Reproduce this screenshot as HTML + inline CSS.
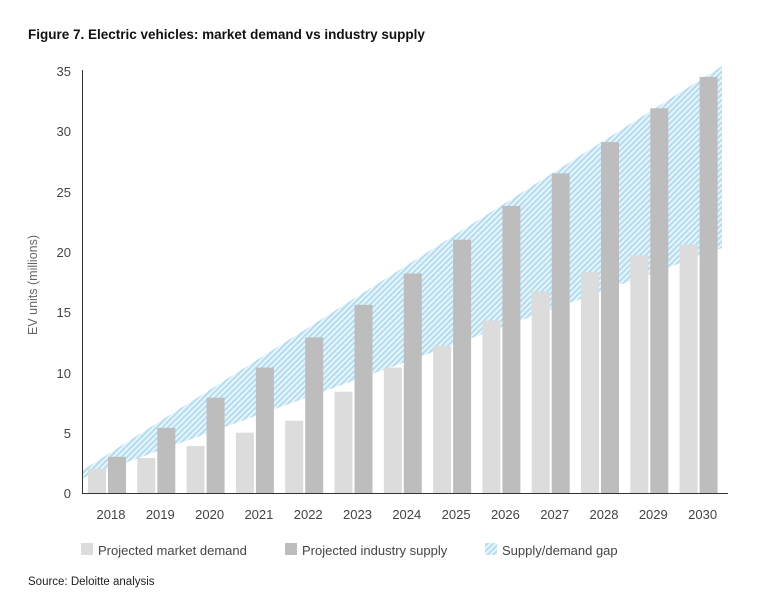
<!DOCTYPE html>
<html><head><meta charset="utf-8"><style>
body{margin:0;background:#fff;font-family:"Liberation Sans",sans-serif;}
</style></head><body>
<svg width="764" height="610" xmlns="http://www.w3.org/2000/svg" font-family="Liberation Sans, sans-serif">
<defs>
<pattern id="h" patternUnits="userSpaceOnUse" width="4" height="4" patternTransform="rotate(45)">
<rect width="4" height="4" fill="#e8f5fb"/><rect width="2" height="4" fill="#b3dcf0"/>
</pattern>
</defs>
<text x="28" y="39" font-size="13.5" font-weight="bold" fill="#111">Figure 7. Electric vehicles: market demand vs industry supply</text>
<polygon points="83,470 722,66 722,248 83,478" fill="url(#h)"/>
<g id="bars"></g>
<line x1="82.5" y1="70" x2="82.5" y2="493.5" stroke="#333" stroke-width="1"/>
<line x1="82" y1="493.5" x2="728" y2="493.5" stroke="#333" stroke-width="1"/>
<g font-size="13" fill="#444" text-anchor="end">
<text x="71" y="498">0</text><text x="71" y="438">5</text><text x="71" y="378">10</text><text x="71" y="317">15</text><text x="71" y="257">20</text><text x="71" y="197">25</text><text x="71" y="136">30</text><text x="71" y="76">35</text>
</g>
<text transform="translate(37,285) rotate(-90)" font-size="12.5" fill="#666" text-anchor="middle">EV units (millions)</text>
<g id="xl" font-size="13" fill="#444" text-anchor="middle"></g>
<rect x="81" y="543" width="12" height="12" fill="#dcdcdc"/>
<text x="98" y="555" font-size="13" fill="#444">Projected market demand</text>
<rect x="285" y="543" width="12" height="12" fill="#bdbdbd"/>
<text x="302" y="555" font-size="13" fill="#444">Projected industry supply</text>
<rect x="485" y="543" width="12" height="12" fill="url(#h)"/>
<text x="502" y="555" font-size="13" fill="#444">Supply/demand gap</text>
<text x="28" y="585" font-size="11.5" fill="#222">Source: Deloitte analysis</text>
<script>
var s=[3.0,5.4,7.9,10.4,12.9,15.6,18.2,21.0,23.8,26.5,29.1,31.9,34.5];
var d=[2.0,2.9,3.9,5.0,6.0,8.4,10.4,12.2,14.3,16.7,18.3,19.7,20.6];
var g=document.getElementById('bars'),xl=document.getElementById('xl'),n='http://www.w3.org/2000/svg',k=12.06;
for(var i=0;i<13;i++){var c=111+i*49.3;
function r(x,v,f){var e=document.createElementNS(n,'rect');e.setAttribute('x',x);e.setAttribute('y',493-v*k);e.setAttribute('width',18);e.setAttribute('height',v*k);e.setAttribute('fill',f);g.appendChild(e);}
r(c-23,d[i],'#dcdcdc');r(c-3,s[i],'#bdbdbd');
var t=document.createElementNS(n,'text');t.setAttribute('x',c);t.setAttribute('y',519);t.textContent=2018+i;xl.appendChild(t);}
</script>
</svg>
</body></html>
